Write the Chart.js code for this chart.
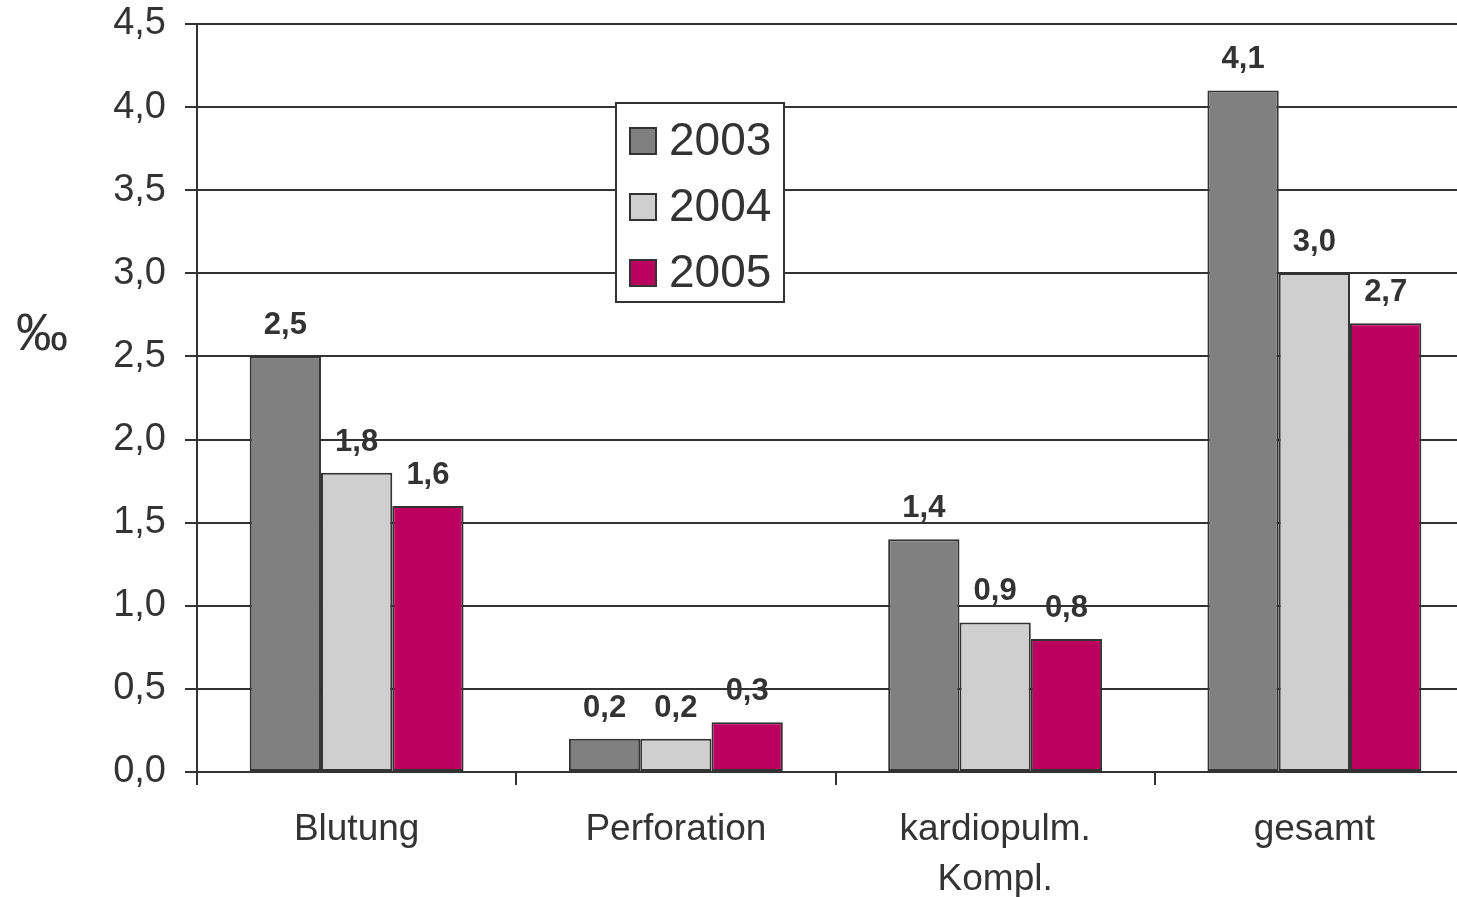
<!DOCTYPE html>
<html>
<head>
<meta charset="utf-8">
<script src="https://cdn.jsdelivr.net/npm/chart.js@4/dist/chart.umd.min.js"></script>
<style>
  html, body { margin: 0; padding: 0; background: #fff; overflow: hidden; }
  #wrap { width: 1474px; height: 897px; }
</style>
</head>
<body>
<div id="wrap"><canvas id="chart" width="1474" height="897"></canvas></div>
<script>
// chart data
const categories = ["Blutung", "Perforation", ["kardiopulm.", "Kompl."], "gesamt"];
const years = ["2003", "2004", "2005"];
const values2003 = [2.5, 0.2, 1.4, 4.1];
const values2004 = [1.8, 0.2, 0.9, 3.0];
const values2005 = [1.6, 0.3, 0.8, 2.7];
const yTicks = [0, 0.5, 1.0, 1.5, 2.0, 2.5, 3.0, 3.5, 4.0, 4.5];

const colors = ["#808080", "#cfcfcf", "#bc0060"];
const textColor = "#333333";
const fontFamily = "'Liberation Sans', Arial, sans-serif";

function fmt(v) {
    return v.toFixed(1).replace(".", ",");
}

// value labels above bars
const valueLabels = {
    id: "valueLabels",
    afterDatasetsDraw(chart) {
        let ctx = chart.ctx;
        ctx.save();
        ctx.font = "bold 31px " + fontFamily;
        ctx.fillStyle = textColor;
        ctx.textAlign = "center";
        ctx.textBaseline = "alphabetic";
        chart.data.datasets.forEach((ds, i) => {
            chart.getDatasetMeta(i).data.forEach((bar, j) => {
                ctx.fillText(fmt(ds.data[j]), bar.x, bar.y - 22);
            });
        });
        ctx.restore();
    }
};

// boxed legend inside the plot + unit label
const boxLegend = {
    id: "boxLegend",
    afterDraw(chart) {
        let ctx = chart.ctx;
        ctx.save();
        ctx.fillStyle = "#fff";
        ctx.strokeStyle = textColor;
        ctx.lineWidth = 2;
        ctx.fillRect(616, 103, 168, 199);
        ctx.strokeRect(616, 103, 168, 199);
        ctx.font = "46px " + fontFamily;
        ctx.textBaseline = "middle";
        ctx.textAlign = "left";
        chart.data.datasets.forEach((ds, i) => {
            let cy = 141 + i * 66;
            ctx.fillStyle = ds.backgroundColor;
            ctx.fillRect(630, cy - 13, 26, 26);
            ctx.lineWidth = 2;
            ctx.strokeRect(630, cy - 13, 26, 26);
            ctx.fillStyle = textColor;
            ctx.fillText(ds.label, 669, cy + 1);
        });
        ctx.font = "52px " + fontFamily;
        ctx.textAlign = "center";
        ctx.fillText("\u2030", 42, 336);
        ctx.restore();
    }
};

new Chart(document.getElementById("chart"), {
    type: "bar",
    data: {
        labels: categories,
        datasets: [
            { label: years[0], data: values2003, backgroundColor: colors[0] },
            { label: years[1], data: values2004, backgroundColor: colors[1] },
            { label: years[2], data: values2005, backgroundColor: colors[2] }
        ]
    },
    options: {
        responsive: false,
        animation: false,
        devicePixelRatio: 1,
        layout: { padding: { top: 24, right: 0, left: 0, bottom: 0 } },
        datasets: {
            bar: {
                categoryPercentage: 0.67,
                barPercentage: 1.0,
                borderColor: textColor,
                borderWidth: 2,
                borderSkipped: false
            }
        },
        plugins: {
            legend: { display: false },
            tooltip: { enabled: false }
        },
        scales: {
            x: {
                offset: true,
                grid: {
                    offset: true,
                    drawOnChartArea: false,
                    drawTicks: true,
                    tickLength: 13,
                    color: textColor,
                    lineWidth: 2
                },
                border: { color: textColor, width: 2 },
                ticks: {
                    color: textColor,
                    font: { family: fontFamily, size: 37, lineHeight: 1.35 },
                    padding: 20,
                    maxRotation: 0,
                    autoSkip: false
                },
                afterFit(scale) { scale.height = 125; }
            },
            y: {
                min: 0,
                max: 4.5,
                afterBuildTicks(scale) {
                    scale.ticks = yTicks.map(v => ({ value: v }));
                },
                grid: {
                    color: textColor,
                    lineWidth: 2,
                    tickLength: 12
                },
                border: { color: textColor, width: 2 },
                ticks: {
                    color: textColor,
                    font: { family: fontFamily, size: 38 },
                    padding: 19,
                    callback: v => fmt(v)
                },
                afterFit(scale) {
                    scale.width = 197;
                    scale.paddingTop = 0;
                    scale.paddingBottom = 0;
                }
            }
        }
    },
    plugins: [valueLabels, boxLegend]
});
</script>
</body>
</html>
